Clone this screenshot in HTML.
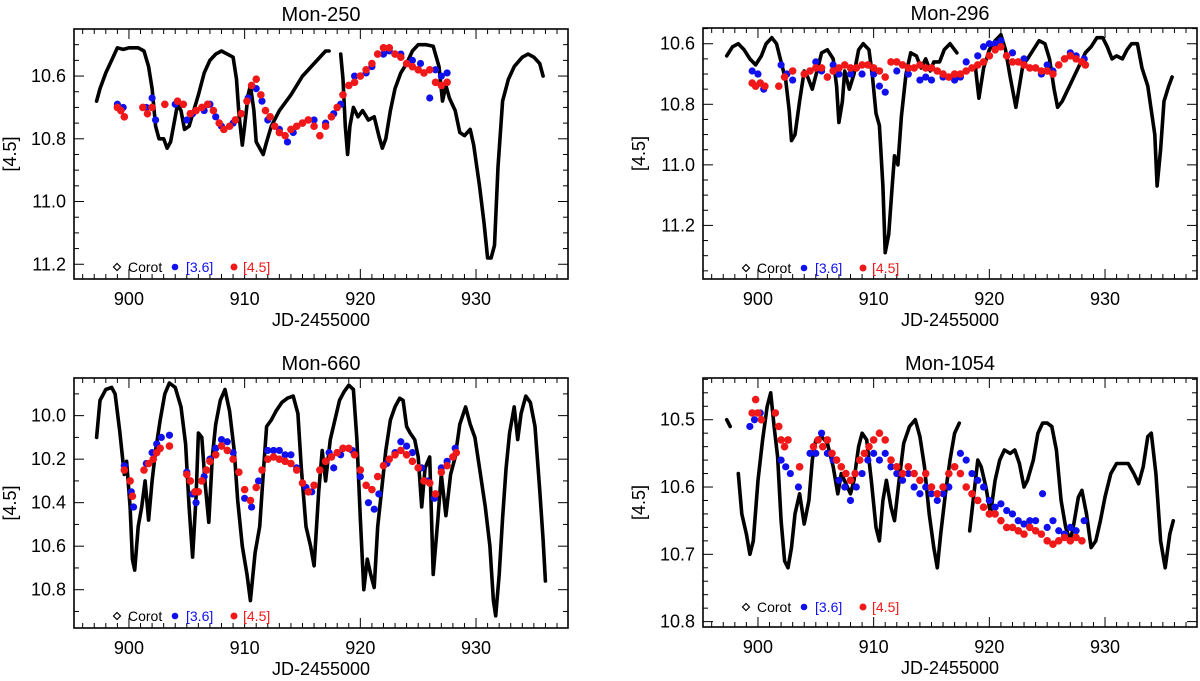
<!DOCTYPE html>
<html><head><meta charset="utf-8"><style>
body{margin:0;background:#fff;}
svg{display:block;font-family:"Liberation Sans",sans-serif;}
</style></head><body>
<svg id="fig" width="1200" height="681" viewBox="0 0 1200 681"></svg>
<script>
// ---- Mon-250 ----
const p1CorotT=[897.2,897.5,898,898.5,899,899.5,900,900.8,901.3,901.7,902,902.3,902.6,903,903.3,903.6,903.9,904.2,904.5,904.8,905.2,905.6,906,906.5,907,907.5,908,908.5,909,909.3,909.5,909.8,910,910.3,910.5,910.8,911,911.3,911.6,911.9,912.3,913,914,915,916,917,917.3,917.8,918.3,918.5,918.7,918.9,919.1,919.4,919.8,920.2,920.7,921.2,921.6,921.9,922.2,922.6,923,923.5,924,924.5,925,925.7,926.3,926.8,927.1,927.4,927.7,928.2,928.6,929,929.5,929.8,930.3,930.7,931,931.3,931.6,931.9,932.3,932.8,933.3,934,934.5,935,935.5,935.8];
const p1CorotM=[10.68,10.64,10.59,10.55,10.51,10.515,10.51,10.51,10.52,10.57,10.64,10.76,10.80,10.80,10.83,10.81,10.75,10.69,10.71,10.77,10.76,10.71,10.66,10.59,10.55,10.53,10.52,10.53,10.54,10.61,10.72,10.82,10.76,10.66,10.63,10.71,10.81,10.83,10.85,10.81,10.76,10.71,10.66,10.60,10.56,10.52,10.52,null,10.53,10.61,10.76,10.85,10.76,10.70,10.73,10.71,10.74,10.73,10.79,10.83,10.80,10.71,10.64,10.59,10.56,10.52,10.50,10.50,10.505,10.57,10.68,10.63,10.67,10.71,10.78,10.79,10.77,10.82,10.95,11.07,11.18,11.18,11.14,10.89,10.68,10.61,10.57,10.54,10.53,10.54,10.56,10.60];
const p1RedT=[899,899.3,899.6,901.2,901.6,902,903.1,904.2,904.7,905.3,905.8,906.3,906.8,907.3,907.8,908.2,908.7,909.2,909.7,910.2,910.6,911,911.4,911.8,912.2,912.6,913,913.5,914,914.5,915,915.5,916,916.5,917,917.5,918,918.5,919,919.5,920,920.5,921,921.5,922,922.5,923,923.5,924,924.5,925,925.5,926,926.5,927,927.5];
const p1RedM=[10.70,10.71,10.73,10.70,10.72,10.70,10.69,10.68,10.69,10.72,10.71,10.70,10.69,10.71,10.75,10.77,10.76,10.74,10.72,10.68,10.63,10.61,10.66,10.71,10.73,10.76,10.78,10.79,10.77,10.76,10.75,10.74,10.76,10.79,10.76,10.73,10.70,10.66,10.63,10.62,10.60,10.58,10.56,10.53,10.51,10.51,10.53,10.54,10.56,10.57,10.58,10.59,10.58,10.62,10.63,10.62];
const p1BlueT=[899,899.5,901.5,902,902.3,904,905,905.5,906.5,907,907.5,908,909,910.3,911,911.5,912,913,913.7,914.2,915,916,917,917.7,918.3,919,919.5,920.5,921,922,922.5,923.5,924.5,925.2,926,926.5,927,927.5];
const p1BlueM=[10.69,10.70,10.70,10.67,10.74,10.69,10.74,10.72,10.71,10.69,10.73,10.76,10.75,10.67,10.64,10.68,10.74,10.77,10.81,10.78,10.75,10.74,10.75,10.72,10.69,10.63,10.60,10.59,10.57,10.53,10.52,10.53,10.55,10.56,10.67,10.58,10.60,10.59];
const p1YTicks=[10.6,10.8,11.0,11.2];
// ---- Mon-296 ----
const p2CorotT=[897.3,897.8,898.3,898.8,899.3,899.8,900.3,900.7,901.2,901.6,902,902.4,902.7,902.9,903.2,903.6,904,904.3,904.7,905.1,905.5,906,906.5,906.8,907,907.3,907.5,907.9,908.3,908.7,909.1,909.6,909.9,910.2,910.5,910.8,911,911.3,911.6,911.8,912.1,912.4,912.8,913.2,913.7,914.1,914.5,914.9,915.2,915.7,916.1,916.6,917.2,918,918.8,919.1,919.5,920,920.5,921,921.4,921.8,922.3,922.6,922.9,923.3,923.8,924.3,924.8,925.2,925.6,925.9,926.3,926.8,927.3,927.8,928.3,928.8,929.3,929.8,930.2,930.6,931,931.5,931.9,932.3,932.8,933.2,933.7,934,934.3,934.5,934.8,935.1,935.5,935.8];
const p2CorotM=[10.64,10.61,10.60,10.62,10.65,10.67,10.64,10.60,10.58,10.60,10.66,10.72,10.82,10.92,10.90,10.79,10.69,10.71,10.75,10.69,10.63,10.62,10.65,10.74,10.86,10.79,10.69,10.75,10.70,10.62,10.60,10.62,10.71,10.83,10.87,11.07,11.29,11.23,11.07,10.97,11.00,10.84,10.70,10.63,10.64,10.68,10.65,10.69,10.66,10.66,10.62,10.60,10.63,null,10.68,10.78,10.68,10.62,10.59,10.57,10.62,10.71,10.81,10.74,10.67,10.65,10.62,10.59,10.60,10.65,10.75,10.81,10.79,10.75,10.71,10.67,10.63,10.61,10.58,10.58,10.61,10.65,10.64,10.65,10.62,10.60,10.60,10.68,10.74,10.82,10.90,11.07,10.95,10.79,10.74,10.71];
const p2RedT=[899.5,899.8,900.2,900.6,901.8,902.3,903,904,904.5,905,905.5,906,906.5,907,907.5,908,908.5,909,909.5,910,910.5,911,911.5,912,912.5,913,913.5,914,914.5,915,915.5,916,916.5,917,917.5,918,918.5,919,919.5,920,920.5,921,921.5,922,922.5,923,923.5,924,924.5,925,925.5,926,926.5,927,927.5,928,928.3];
const p2RedM=[10.73,10.74,10.73,10.74,10.74,10.71,10.69,10.70,10.69,10.68,10.68,10.71,10.69,10.68,10.67,10.68,10.68,10.67,10.67,10.68,10.69,10.71,10.66,10.66,10.67,10.68,10.68,10.67,10.68,10.68,10.69,10.70,10.71,10.70,10.70,10.69,10.68,10.67,10.66,10.64,10.62,10.61,10.64,10.66,10.66,10.67,10.68,10.68,10.69,10.69,10.70,10.67,10.65,10.64,10.65,10.66,10.67];
const p2BlueT=[899.5,900,900.5,902,902.5,903,905,905.5,906.5,907,908,909,910,910.5,911,912,913,914,914.5,915,916,917,917.5,918,919,919.5,920,920.5,921,922,923,924,924.5,925,925.5,926.5,927,927.5,928.2];
const p2BlueM=[10.69,10.70,10.75,10.67,10.70,10.72,10.66,10.69,10.67,10.70,10.70,10.70,10.70,10.74,10.76,10.69,10.70,10.72,10.71,10.72,10.71,10.72,10.71,10.66,10.64,10.61,10.60,10.60,10.59,10.63,10.65,10.68,10.70,10.67,10.69,10.65,10.63,10.64,10.65];
const p2YTicks=[10.6,10.8,11.0,11.2];
// ---- Mon-660 ----
const p3CorotT=[897.2,897.5,898,898.5,898.8,899.2,899.6,899.8,900.1,900.3,900.5,900.8,901.1,901.4,901.7,902,902.3,902.7,903.1,903.5,904,904.5,904.9,905.2,905.5,905.8,906,906.3,906.6,906.9,907.2,907.5,907.9,908.3,908.7,909.1,909.4,909.8,910.2,910.5,910.9,911.3,911.6,911.9,912.3,912.7,913.2,913.7,914.2,914.6,914.9,915.3,915.7,916,916.4,916.7,917,917.4,917.8,918.2,918.6,919,919.4,919.7,920,920.3,920.6,920.9,921.2,921.5,921.8,922.2,922.6,923,923.4,923.7,924,924.3,924.7,925,925.3,925.6,926,926.3,926.7,927,927.4,927.8,928.2,928.6,929.1,929.5,929.9,930.3,930.8,931.2,931.5,931.7,932,932.3,932.6,932.9,933.3,933.6,933.9,934.3,934.7,935.1,935.5,935.8,936];
const p3CorotM=[10.10,9.93,9.88,9.87,9.90,10.07,10.27,10.21,10.42,10.66,10.71,10.51,10.42,10.30,10.48,10.30,10.16,10.02,9.90,9.85,9.87,9.96,10.13,10.42,10.65,10.37,10.08,10.10,10.32,10.49,10.19,10.04,9.93,9.88,9.98,10.16,10.39,10.60,10.73,10.85,10.63,10.51,10.27,10.05,10.02,9.98,9.94,9.92,9.91,9.99,10.24,10.51,10.60,10.69,10.35,10.16,10.30,10.11,10.02,9.93,9.89,9.86,9.88,10.11,10.47,10.80,10.66,10.73,10.79,10.51,10.36,10.16,10.02,9.96,9.92,9.93,10.05,10.08,10.11,10.19,10.42,10.24,10.19,10.73,10.48,10.27,10.46,10.27,10.19,10.04,9.96,10.04,10.10,10.24,10.42,10.60,10.85,10.92,10.73,10.47,10.24,10.08,9.96,10.11,9.99,9.91,9.94,10.05,10.34,10.57,10.76];
const p3RedT=[899.6,900.1,900.3,901.3,901.7,902.1,902.4,902.7,903.5,905,905.3,905.7,906,906.3,906.7,907,907.5,908,908.5,909,909.5,910,910.5,911,911.5,912,912.5,913,913.5,914,914.5,915,915.5,916,916.5,917,917.5,918,918.5,919,919.5,920,920.5,921,921.5,922,922.5,923,923.5,924,924.5,925,925.5,926,926.5,927,927.5,928,928.3];
const p3RedM=[10.25,10.30,10.37,10.25,10.22,10.20,10.17,10.15,10.14,10.27,10.30,10.35,10.35,10.30,10.25,10.21,10.18,10.14,10.16,10.20,10.26,10.34,10.39,10.33,10.25,10.20,10.19,10.20,10.21,10.22,10.25,10.31,10.35,10.32,10.25,10.21,10.19,10.17,10.15,10.15,10.18,10.25,10.32,10.34,10.28,10.23,10.20,10.18,10.16,10.18,10.21,10.24,10.30,10.31,10.36,10.26,10.23,10.19,10.17];
const p3BlueT=[899.6,900.2,900.4,901.5,902,902.4,902.8,903.5,905,905.5,905.8,906.5,907,907.5,908,908.5,909,909.5,910,910.6,911.2,912,912.5,913,913.5,914,914.5,915.3,915.8,917.3,917.7,918.3,919.3,920,920.7,921.2,921.6,922.3,923,923.5,924,924.5,925.3,925.8,926.4,927,927.5,928.2];
const p3BlueM=[10.23,10.35,10.42,10.22,10.17,10.13,10.10,10.09,10.26,10.36,10.40,10.28,10.20,10.15,10.11,10.12,10.17,10.26,10.38,10.42,10.30,10.16,10.16,10.16,10.18,10.18,10.24,10.33,10.35,10.17,10.24,10.18,10.16,10.28,10.40,10.43,10.36,10.22,10.17,10.12,10.14,10.17,10.24,10.30,10.38,10.24,10.21,10.15];
const p3YTicks=[10.0,10.2,10.4,10.6,10.8];
// ---- Mon-1054 ----
const p4CorotT=[897.3,897.6,898,898.3,898.6,899,899.3,899.6,900,900.4,900.8,901.1,901.4,901.7,902,902.3,902.6,902.9,903.2,903.6,904,904.4,904.7,905,905.5,906,906.5,906.9,907.2,907.6,908,908.3,908.7,909,909.4,909.8,910.2,910.5,910.8,911.1,911.5,911.8,912.2,912.6,913.1,913.6,914,914.4,914.8,915.2,915.5,915.8,916.2,916.6,917,917.4,917.9,918.3,918.7,919,919.3,919.7,920.1,920.5,920.9,921.3,921.8,922.2,922.6,923,923.3,923.8,924.2,924.6,925,925.4,925.8,926.2,926.6,927,927.3,927.7,928,928.4,928.8,929.2,929.6,930,930.5,931,931.5,932,932.5,932.9,933.3,933.7,934,934.4,934.8,935.2,935.6,935.9];
const p4CorotM=[10.50,10.51,null,10.58,10.64,10.67,10.70,10.68,10.59,10.53,10.48,10.46,10.51,10.555,10.65,10.71,10.72,10.69,10.64,10.61,10.655,10.62,10.56,10.53,10.525,10.535,10.57,10.61,10.58,10.595,10.61,10.59,10.54,10.52,10.53,10.59,10.66,10.68,10.62,10.59,10.63,10.65,10.59,10.535,10.51,10.50,10.525,10.57,10.64,10.69,10.72,10.67,10.61,10.56,10.52,10.505,null,10.665,10.605,10.56,10.57,10.60,10.64,10.59,10.56,10.545,10.55,10.545,10.565,10.60,10.59,10.56,10.52,10.505,10.505,10.51,10.545,10.62,10.66,10.68,10.655,10.615,10.605,10.64,10.69,10.68,10.65,10.615,10.58,10.565,10.565,10.565,10.58,10.595,10.57,10.525,10.52,10.58,10.68,10.72,10.67,10.65];
const p4RedT=[899.5,899.8,900,900.3,901.5,901.8,902,902.3,902.6,903.6,904.8,905.2,905.6,906,906.4,906.8,907.2,907.6,908,908.4,908.8,909.2,909.6,910,910.5,911,911.5,912,912.5,913,913.5,914,914.5,915,915.5,916,916.5,917,917.5,918,918.5,919,919.5,920,920.5,921,921.5,922,922.5,923,923.5,924,924.5,925,925.5,926,926.5,927,927.5,928];
const p4RedM=[10.49,10.47,10.49,10.50,10.49,10.51,10.53,10.54,10.53,10.57,10.54,10.53,10.54,10.53,10.55,10.56,10.57,10.58,10.59,10.58,10.56,10.55,10.54,10.53,10.52,10.53,10.56,10.57,10.58,10.57,10.58,10.59,10.58,10.60,10.61,10.60,10.58,10.57,10.58,10.60,10.61,10.62,10.63,10.64,10.64,10.65,10.66,10.66,10.665,10.67,10.66,10.665,10.67,10.68,10.685,10.68,10.675,10.68,10.675,10.68];
const p4BlueT=[899.3,899.7,900.2,902,902.4,902.8,903.5,904.5,905,905.5,906,906.5,907,907.5,908,908.5,909,909.5,910,910.5,911,911.5,912,912.5,913,913.5,914,914.5,915,915.5,916,916.5,917,917.5,918,918.5,919,919.5,920,920.5,921,921.5,922,922.5,923,923.5,924,924.6,925,925.5,926,926.5,927,927.5,928.2];
const p4BlueM=[10.51,10.50,10.49,10.56,10.57,10.58,10.60,10.55,10.55,10.52,10.55,10.56,10.59,10.60,10.62,10.60,10.58,10.56,10.55,10.56,10.55,10.57,10.58,10.59,10.58,10.60,10.61,10.60,10.61,10.62,10.61,10.60,10.57,10.55,10.56,10.58,10.59,10.60,10.62,10.63,10.625,10.635,10.64,10.65,10.655,10.65,10.65,10.61,10.66,10.65,10.665,10.67,10.66,10.665,10.65];
const p4YTicks=[10.5,10.6,10.7,10.8];
const xTicks=[900,910,920,930];

const NS="http://www.w3.org/2000/svg";
const svg=document.getElementById('fig');
function mk(tag,attrs,parent){const e=document.createElementNS(NS,tag);for(const k in attrs)e.setAttribute(k,attrs[k]);(parent||svg).appendChild(e);return e;}

function drawPanel(cfg,cT,cM,bT,bM,rT,rM,yTicks){
  const g=mk('g',{});
  
  
  const L=cfg.L,R=cfg.R,T=cfg.T,B=cfg.B;
  const xs=t=>L+(t-cfg.x0)/(cfg.x1-cfg.x0)*(R-L);
  const ys=m=>T+(m-cfg.y0)/(cfg.y1-cfg.y0)*(B-T);
  const title=mk('text',{x:(L+R)/2,y:T-8,'text-anchor':'middle','font-size':20},g);
  title.textContent=cfg.title;
  
  
  const cg=mk('g',{},g);
  
  
  let seg=[];
  const flush=()=>{if(seg.length>1){const pl=mk('polyline',{points:seg.join(' '),fill:'none',stroke:'#000','stroke-width':3.6,'stroke-linejoin':'round','stroke-linecap':'round'},cg);
    
    }seg=[];};
  for(let i=0;i<cT.length;i++){if(cM[i]===null){flush();continue;}seg.push(xs(cT[i]).toFixed(1)+','+ys(cM[i]).toFixed(1));}
  flush();
  const bg=mk('g',{fill:'#1010ee'},g);
  
  
  for(let i=0;i<bT.length;i++){const c=mk('circle',{cx:xs(bT[i]),cy:ys(bM[i]),r:3.6},bg);
    
    }
  const rg=mk('g',{fill:'#f01818'},g);
  
  
  for(let i=0;i<rT.length;i++){const c=mk('circle',{cx:xs(rT[i]),cy:ys(rM[i]),r:3.8},rg);
    
    }
  const fr=mk('rect',{x:L,y:T,width:R-L,height:B-T,fill:'none',stroke:'#000','stroke-width':1.6},g);
  
  
  for(let d=Math.ceil(cfg.x0);d<=cfg.x1;d++){const x=xs(d);const len=(d%10===0)?10:5;
    mk('line',{x1:x,x2:x,y1:B,y2:B-len,stroke:'#000','stroke-width':1},g);
    mk('line',{x1:x,x2:x,y1:T,y2:T+len,stroke:'#000','stroke-width':1},g);}
  for(const t of xTicks){const tx=mk('text',{x:xs(t),y:B+26,'text-anchor':'middle','font-size':18},g);tx.textContent=t;
    
    }
  const start=Math.ceil(cfg.y0/cfg.minor-1e-6);
  for(let k=start;k*cfg.minor<=cfg.y1+1e-9;k++){const v=k*cfg.minor;const y=ys(v);
    const major=yTicks.some(t=>Math.abs(t-v)<1e-6);const len=major?10:5;
    mk('line',{x1:L,x2:L+len,y1:y,y2:y,stroke:'#000','stroke-width':1},g);
    mk('line',{x1:R,x2:R-len,y1:y,y2:y,stroke:'#000','stroke-width':1},g);}
  for(const t of yTicks){const ty=mk('text',{x:L-8,y:ys(t)+6,'text-anchor':'end','font-size':18},g);ty.textContent=t.toFixed(1);
    
    }
  const xl=mk('text',{x:(L+R)/2,y:B+47,'text-anchor':'middle','font-size':18},g);xl.textContent='JD-2455000';
  
  
  const yl=mk('text',{x:0,y:0,'text-anchor':'middle','font-size':18,transform:'translate('+(L-58)+','+((T+B)/2)+') rotate(-90)'},g);yl.textContent='[4.5]';
  
  
  const lg=mk('g',{},g);
  
  
  const ly=cfg.legY, lx=L+43;
  mk('path',{d:`M${lx-3.5},${ly} L${lx},${ly-3.5} L${lx+3.5},${ly} L${lx},${ly+3.5} Z`,fill:'none',stroke:'#000','stroke-width':1.2},lg);
  const t1=mk('text',{x:lx+11,y:ly+5,'font-size':14},lg);t1.textContent='Corot';
  
  
  mk('circle',{cx:lx+58,cy:ly,r:3.3,fill:'#1010ee'},lg);
  const t2=mk('text',{x:lx+69,y:ly+5,'font-size':14,fill:'#1010ee'},lg);t2.textContent='[3.6]';
  
  
  mk('circle',{cx:lx+117,cy:ly,r:3.5,fill:'#f01818'},lg);
  const t3=mk('text',{x:lx+126,y:ly+5,'font-size':14,fill:'#f01818'},lg);t3.textContent='[4.5]';
  
  
}
const X0=895.25,X1=937.95;
drawPanel({id:'mon-250',title:'Mon-250',L:74,R:568,T:29,B:279,x0:X0,x1:X1,y0:10.45,y1:11.247,minor:0.05,legY:267},p1CorotT,p1CorotM,p1BlueT,p1BlueM,p1RedT,p1RedM,p1YTicks);
drawPanel({id:'mon-296',title:'Mon-296',L:703,R:1197,T:28,B:279,x0:X0,x1:X1,y0:10.548,y1:11.377,minor:0.05,legY:268},p2CorotT,p2CorotM,p2BlueT,p2BlueM,p2RedT,p2RedM,p2YTicks);
drawPanel({id:'mon-660',title:'Mon-660',L:74,R:568,T:378,B:628,x0:X0,x1:X1,y0:9.827,y1:10.976,minor:0.1,legY:616},p3CorotT,p3CorotM,p3BlueT,p3BlueM,p3RedT,p3RedM,p3YTicks);
drawPanel({id:'mon-1054',title:'Mon-1054',L:703,R:1197,T:378,B:627,x0:X0,x1:X1,y0:10.438,y1:10.808,minor:0.02,legY:607},p4CorotT,p4CorotM,p4BlueT,p4BlueM,p4RedT,p4RedM,p4YTicks);
</script>
</body></html>
